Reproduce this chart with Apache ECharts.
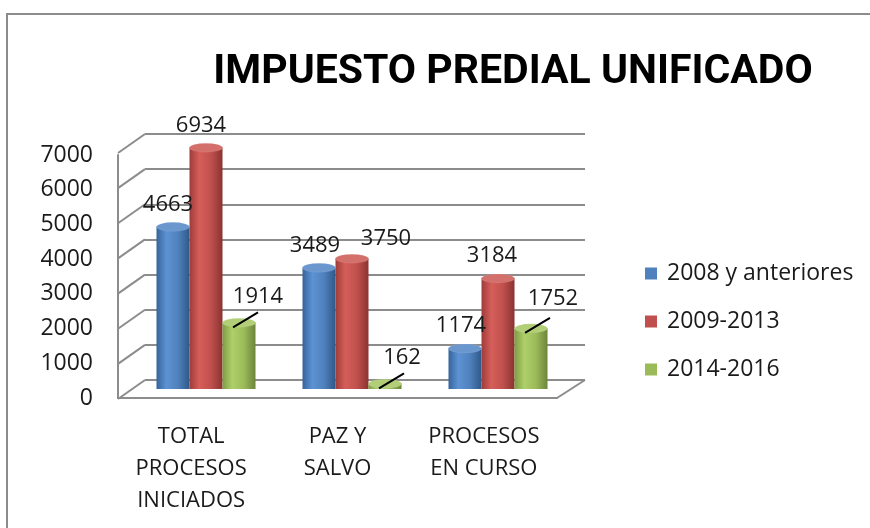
<!DOCTYPE html>
<html>
<head>
<meta charset="utf-8">
<script src="https://cdn.jsdelivr.net/npm/echarts@6/dist/echarts.min.js"></script>
<style>
  html, body { margin: 0; padding: 0; background: #fff; }
  #chart { width: 870px; height: 528px; }
</style>
</head>
<body>
<div id="chart"></div>
<script>
const categories = ['TOTAL\nPROCESOS\nINICIADOS', 'PAZ Y\nSALVO', 'PROCESOS\nEN CURSO'];
const seriesNames = ['2008 y anteriores', '2009-2013', '2014-2016'];
const values2008 = [4663, 3489, 1174];
const values2009 = [6934, 3750, 3184];
const values2014 = [1914, 162, 1752];
const yTicks = [0, 1000, 2000, 3000, 4000, 5000, 6000, 7000];

const FONT = '"Open Sans", "Noto Sans", sans-serif';
const baseColors = ['#4f81bd', '#c0504d', '#9bbb59'];
const capColors = ['#6b97cf', '#d4706c', '#b2cf78'];
const shades = [
  ['#35649c', '#5d92d3', '#4f81bd', '#2f5888'],
  ['#9e3c39', '#d65e5a', '#c0504d', '#8a3331'],
  ['#7f9c44', '#aed06a', '#9bbb59', '#6c853b']
];
// label nudges per series / category (px)
const labelShift = [
  [[-5, 0], [-4, 0], [-4, 0]],
  [[-5, 0], [34, 2], [-6, 0]],
  [[19, 0], [17, 0], [22, -3]]
];
const allValues = [values2008, values2009, values2014];
const BAR_W = 33;

const chart = echarts.init(document.getElementById('chart'));

function cylGradient(i) {
  const s = shades[i];
  return new echarts.graphic.LinearGradient(0, 0, 1, 0, [
    { offset: 0, color: s[0] },
    { offset: 0.3, color: s[1] },
    { offset: 0.65, color: s[2] },
    { offset: 1, color: s[3] }
  ]);
}

const barSeries = allValues.map((vals, i) => ({
  name: seriesNames[i],
  type: 'bar',
  xAxisIndex: 2,
  yAxisIndex: 2,
  barWidth: BAR_W,
  barGap: '0%',
  z: 3,
  itemStyle: { color: cylGradient(i) },
  data: vals.map((v, j) => ({ value: v, label: { offset: labelShift[i][j] } })),
  label: {
    show: true,
    position: 'top',
    distance: i === 2 ? 15 : 11,
    fontFamily: FONT,
    fontSize: 22,
    color: '#1a1a1a'
  }
}));

const capSeries = allValues.map((vals, i) => ({
  name: 'cap' + i,
  type: 'pictorialBar',
  xAxisIndex: 2,
  yAxisIndex: 2,
  barWidth: BAR_W,
  barGap: '0%',
  symbol: 'circle',
  symbolSize: [BAR_W, 9],
  symbolPosition: 'end',
  symbolOffset: [0, '-50%'],
  z: 4,
  silent: true,
  itemStyle: { color: capColors[i], borderColor: '#fff', borderWidth: 1.5 },
  data: vals
}));

// leader lines from the green cylinders to their labels
const leaderSeries = {
  type: 'custom',
  xAxisIndex: 2,
  yAxisIndex: 2,
  silent: true,
  z: 6,
  data: values2014.map((v, j) => [j, v]),
  renderItem: function (params, api) {
    const p = api.coord([api.value(0), api.value(1)]);
    const cx = p[0] + BAR_W;
    return {
      type: 'line',
      shape: { x1: cx - 6, y1: p[1] + 5, x2: cx + 19, y2: p[1] - 10 },
      style: { stroke: '#000', lineWidth: 2 }
    };
  }
};

const wallSeries = {
  type: 'custom',
  xAxisIndex: 0,
  yAxisIndex: 0,
  silent: true,
  z: 1,
  data: yTicks,
  renderItem: function (params, api) {
    const v = api.value(0);
    const p = api.coord([0, v]);
    const children = [{
      type: 'line',
      shape: { x1: p[0], y1: p[1], x2: p[0] - 27, y2: p[1] + 19 },
      style: { stroke: '#8c8c8c', lineWidth: 2 }
    }];
    if (v === 0) {
      const q = api.coord([1, 0]);
      children.push({
        type: 'line',
        shape: { x1: q[0], y1: q[1], x2: q[0] - 28, y2: q[1] + 18 },
        style: { stroke: '#8c8c8c', lineWidth: 2 }
      });
    }
    return { type: 'group', children: children };
  }
};

const option = {
  animation: false,
  backgroundColor: '#fff',
  graphic: [{
    type: 'rect',
    silent: true,
    shape: { x: 7, y: 14, width: 900, height: 600 },
    style: { fill: 'none', stroke: '#8c8c8c', lineWidth: 2 }
  }],
  title: {
    text: 'IMPUESTO PREDIAL UNIFICADO',
    left: 508,
    textAlign: 'center',
    top: 47,
    textStyle: { fontFamily: 'Roboto, sans-serif', fontWeight: 'bold', fontSize: 41, color: '#000' }
  },
  legend: {
    orient: 'vertical',
    left: 640,
    top: 256,
    itemWidth: 12,
    itemHeight: 12,
    itemGap: 23,
    icon: 'rect',
    textStyle: { fontFamily: FONT, fontSize: 23, color: '#1a1a1a', lineHeight: 25, padding: [0, 0, 0, 5] },
    data: seriesNames.map((n, i) => ({ name: n, itemStyle: { color: baseColors[i] } }))
  },
  grid: [
    { left: 145, top: 134, width: 440, height: 246 },
    { left: 118, top: 155, width: 439, height: 243 },
    { left: 133, top: 145, width: 438, height: 244 }
  ],
  xAxis: [
    { gridIndex: 0, type: 'value', min: 0, max: 1, show: false },
    {
      gridIndex: 1,
      type: 'category',
      data: categories,
      axisLine: { lineStyle: { color: '#8c8c8c', width: 2 } },
      axisTick: { show: false },
      axisLabel: { fontFamily: FONT, fontSize: 22, lineHeight: 32, color: '#1a1a1a', margin: 23, interval: 0 }
    },
    { gridIndex: 2, type: 'category', data: categories, show: false }
  ],
  yAxis: [
    {
      gridIndex: 0, type: 'value', min: 0, max: 7000, interval: 1000,
      axisLine: { show: false }, axisTick: { show: false }, axisLabel: { show: false },
      splitLine: { lineStyle: { color: '#8c8c8c', width: 2 } }
    },
    {
      gridIndex: 1, type: 'value', min: 0, max: 7000, interval: 1000,
      axisLine: { show: true, lineStyle: { color: '#8c8c8c', width: 2 } },
      axisTick: { show: false },
      splitLine: { show: false },
      axisLabel: { fontFamily: FONT, fontSize: 23, color: '#1a1a1a', margin: 25, formatter: v => String(v) }
    },
    { gridIndex: 2, type: 'value', min: 0, max: 7000, interval: 1000, show: false }
  ],
  series: [wallSeries].concat(barSeries, capSeries, [leaderSeries])
};

chart.setOption(option);
</script>
</body>
</html>
